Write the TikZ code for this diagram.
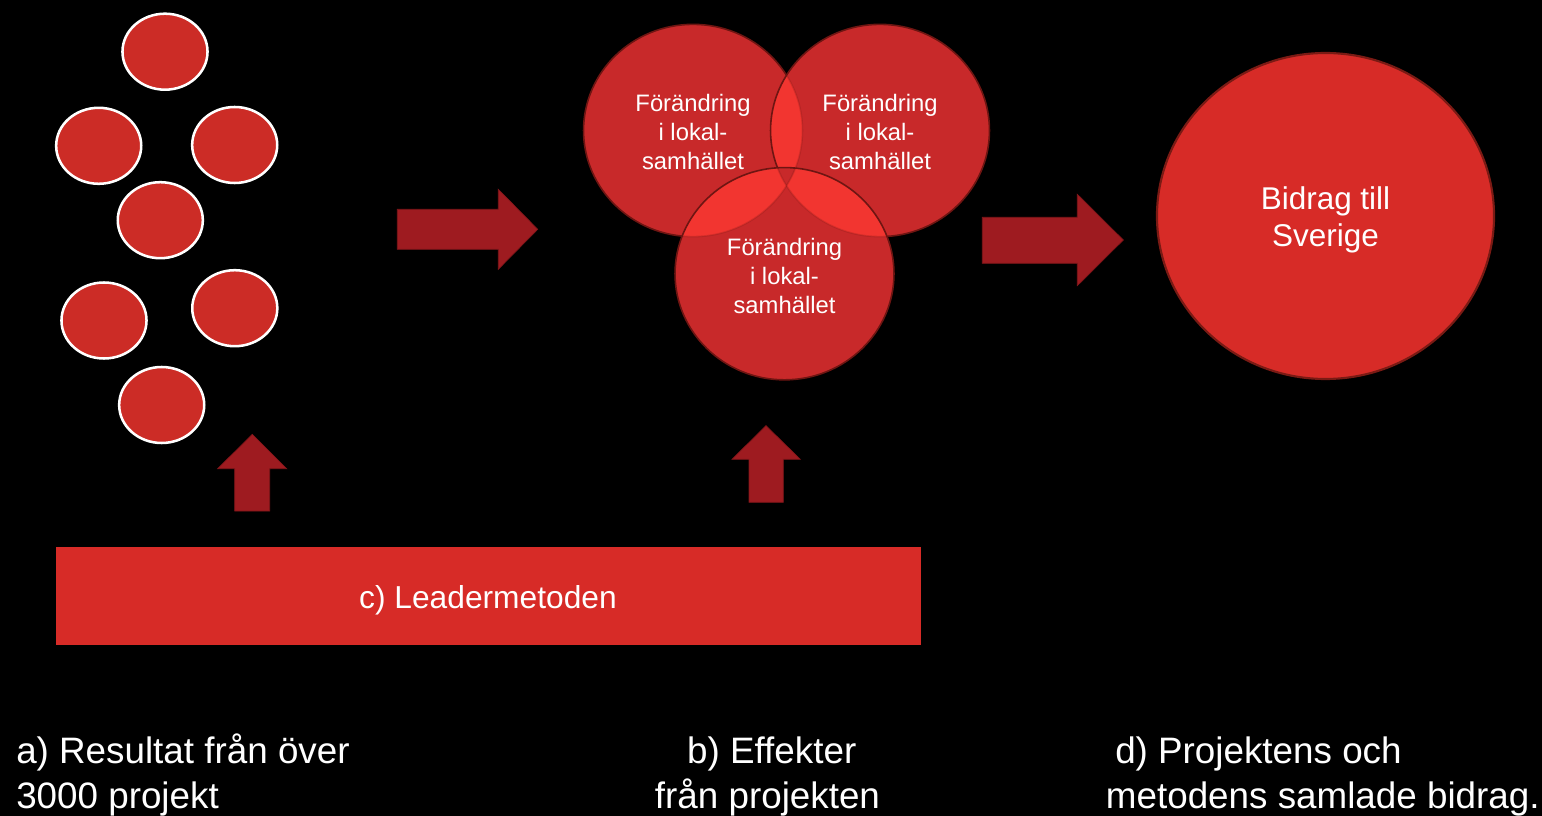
\documentclass[tikz,border=0pt]{standalone}
\usepackage{fontspec}
\setmainfont{Liberation Sans}
\usetikzlibrary{shapes.geometric}
\definecolor{dotred}{HTML}{CC2C26}
\definecolor{vennbase}{HTML}{C8292A}
\definecolor{vennhi}{HTML}{F23530}
\definecolor{vennline}{HTML}{6E1512}
\definecolor{bigred}{HTML}{D72B27}
\definecolor{bigline}{HTML}{7A1A14}
\definecolor{arrowred}{HTML}{9E1B20}
\definecolor{arrowline}{HTML}{82161A}
\begin{document}
\begin{tikzpicture}[x=0.75pt,y=-0.75pt,
  smalldot/.style={ellipse, draw=white, line width=1.9pt, fill=dotred,
    minimum width=63.8pt, minimum height=57pt, inner sep=0pt},
  vr/.style={x radius=82.1pt, y radius=79.6pt},
  vennedge/.style={draw=vennline, line width=1.2pt},
  vennfaint/.style={draw=vennline, line width=1.2pt, draw opacity=0.22},
  venntext/.style={text=white, align=center, inner sep=0pt,
    font=\fontsize{17.85pt}{21.75pt}\selectfont},
  blockarrow/.style={fill=arrowred, draw=arrowline, line width=0.5pt},
  bottomtext/.style={text=white, inner sep=0pt,
    font=\fontsize{27.6pt}{30pt}\selectfont},
]
\useasboundingbox (0,0) rectangle (1542,816);
\fill[black] (0,0) rectangle (1542,816);

% a) small result circles
\node[smalldot] (d1) at (165,51.7) {};
\node[smalldot] (d2) at (98.7,145.8) {};
\node[smalldot] (d3) at (234.7,145) {};
\node[smalldot] (d4) at (160.3,220.2) {};
\node[smalldot] (d5) at (104,320.5) {};
\node[smalldot] (d6) at (234.8,308.2) {};
\node[smalldot] (d7) at (161.7,405) {};

% right arrows
\path[blockarrow] (397.3,209.3) -- (498.3,209.3) -- (498.3,189.3) -- (537.7,229.3)
  -- (498.3,269.3) -- (498.3,249.3) -- (397.3,249.3) -- cycle;
\path[blockarrow] (982.3,217.3) -- (1077.3,217.3) -- (1077.3,194.3) -- (1123.3,240)
  -- (1077.3,285.7) -- (1077.3,263.3) -- (982.3,263.3) -- cycle;

% up arrows
\path[blockarrow] (234.7,511) -- (234.7,468.7) -- (217.7,468.7) -- (252.3,434.3)
  -- (286.7,468.7) -- (269.7,468.7) -- (269.7,511) -- cycle;
\path[blockarrow] (749,502.3) -- (749,459.3) -- (732,459.3) -- (766,425.7)
  -- (800.3,459.3) -- (783.3,459.3) -- (783.3,502.3) -- cycle;

% b) venn circles
\coordinate (L) at (693,130.5);
\coordinate (R) at (880,130.5);
\coordinate (B) at (784.5,273.7);
\fill[vennbase] (L) ellipse[vr];
\path[vennedge] (L) ellipse[vr];
\begin{scope}
  \fill[vennbase] (R) ellipse[vr];
  \clip (R) ellipse[vr];
  \fill[vennhi] (L) ellipse[vr];
  \path[vennfaint] (L) ellipse[vr];
\end{scope}
\path[vennedge] (R) ellipse[vr];
\begin{scope}
  \clip (B) ellipse[vr];
  \fill[vennbase] (B) ellipse[vr];
  \fill[vennhi] (L) ellipse[vr];
  \fill[vennhi] (R) ellipse[vr];
  \begin{scope}
    \clip (L) ellipse[vr];
    \fill[vennbase] (R) ellipse[vr];
  \end{scope}
  \path[vennfaint] (L) ellipse[vr];
  \path[vennfaint] (R) ellipse[vr];
\end{scope}
\path[vennedge] (B) ellipse[vr];
\node[venntext] (tL) at (693,132.3) {Förändring\\i lokal-\\samhället};
\node[venntext] (tR) at (880,132.3) {Förändring\\i lokal-\\samhället};
\node[venntext] (tB) at (784.5,275.7) {Förändring\\i lokal-\\samhället};

% d) big circle
\node[ellipse, fill=bigred, draw=bigline, line width=1.6pt,
  minimum width=252.8pt, minimum height=244.5pt, inner sep=0pt] (big) at (1325.5,216) {};
\node[text=white, align=center, inner sep=0pt,
  font=\fontsize{23.6pt}{27.75pt}\selectfont] (bigtext) at (1325.5,220) {Bidrag till\\Sverige};

% c) bar
\node[rectangle, fill=bigred, minimum width=648.75pt, minimum height=73.5pt,
  inner sep=0pt] (bar) at (488.5,596) {};
\node[text=white, inner sep=0pt, font=\fontsize{23.8pt}{28pt}\selectfont]
  (bartext) at (488,600) {c) Leadermetoden};

% bottom captions
\node[bottomtext, anchor=base west] (a1) at (16,763.8) {a) Resultat från över};
\node[bottomtext, anchor=base west] (a2) at (16,808.3) {3000 projekt};
\node[bottomtext, anchor=base] (b1) at (771.7,763.8) {b) Effekter};
\node[bottomtext, anchor=base] (b2) at (767.5,808.3) {från projekten};
\node[bottomtext, anchor=base west] (c1) at (1115,763.8) {d) Projektens och};
\node[bottomtext, anchor=base west] (c2) at (1105.7,808.3) {metodens samlade bidrag.};
\end{tikzpicture}
\end{document}
